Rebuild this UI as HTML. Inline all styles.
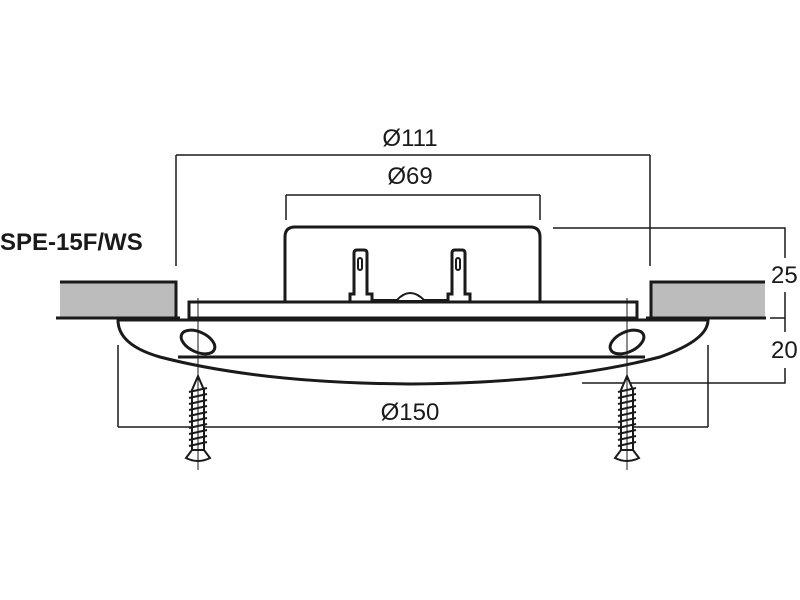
<!DOCTYPE html>
<html><head><style>
html,body{margin:0;padding:0;background:#fff;width:800px;height:600px;overflow:hidden}
svg{display:block}
text{font-family:"Liberation Sans",sans-serif;fill:#1a1a1a}
</style></head><body>
<svg width="800" height="600" viewBox="0 0 800 600" xmlns="http://www.w3.org/2000/svg">
<g stroke="#1a1a1a" fill="none" stroke-width="1.5">
 <path d="M176 155H650M176 155V266M650 155V266"/>
 <path d="M286 195H540M286 195V220M540 195V220"/>
 <path d="M553 228H785V258M785 292V318H770M785 318V332M785 368V383H582"/>
 <path d="M118 427H708M118 345V427M708 345V427"/>
</g>
<rect x="60" y="281" width="116" height="37" fill="#bcbcbc"/>
<path d="M60 282H176V318" stroke="#1a1a1a" stroke-width="3" fill="none"/>
<rect x="650" y="281" width="115" height="37" fill="#bcbcbc"/>
<path d="M765 282H651V318" stroke="#1a1a1a" stroke-width="3" fill="none"/>
<path d="M56 318H180M646 318H766" stroke="#1a1a1a" stroke-width="3"/>
<g stroke="#1a1a1a" fill="#fff" stroke-width="3">
 <path d="M285 302V237Q285 227 295 227H530Q540 227 540 237V302"/>
 <path d="M350 307V294H354V253Q354 250 357 250H364Q367 250 367 253V294H372V307Z"/>
 <path d="M448 307V294H452V253Q452 250 455 250H462Q465 250 465 253V294H470V307Z"/>
 <rect x="358" y="258" width="4" height="12" rx="2" stroke-width="2"/>
 <rect x="456" y="258" width="4" height="12" rx="2" stroke-width="2"/>
 <path d="M372 300H448V307H372Z" stroke-width="2"/>
 <path d="M397 300Q410 286 424 300" stroke-width="2"/>
 <rect x="189" y="302" width="448" height="16"/>
 <path d="M118 320H708Q708 340 660 357Q560 383 410 384Q260 383 160 357Q118 345 118 320Z"/>
 <path d="M178 357H645"/>
 <ellipse cx="198" cy="342" rx="18" ry="10" transform="rotate(25 198 342)"/>
 <ellipse cx="627" cy="342" rx="18" ry="10" transform="rotate(-25 627 342)"/>
</g>
<path d="M198 298V470M627 298V470" stroke="#1a1a1a" stroke-width="1"/>
<g stroke="#1a1a1a" fill="#fff" stroke-width="2">
 <g id="s1">
 <path d="M198 376L192 390V450H204V390Z"/>
 <path d="M192 450L186 458Q198 464 210 458L204 450Z"/>
 <path d="M189 392l18 -4M189 398l18 -4M189 404l18 -4M189 410l18 -4M189 416l18 -4M189 422l18 -4M189 428l18 -4M189 434l18 -4M189 440l18 -4M189 446l18 -4"/>
 </g>
 <use href="#s1" x="429"/>
</g>
<path d="M198 376V470M627 376V470" stroke="#1a1a1a" stroke-width="1"/>
<text x="410" y="146" font-size="24" text-anchor="middle">Ø111</text>
<text x="410" y="184" font-size="24" text-anchor="middle">Ø69</text>
<text x="410" y="420" font-size="24" text-anchor="middle">Ø150</text>
<text x="771" y="283" font-size="24">25</text>
<text x="771" y="358" font-size="24">20</text>
<text x="0" y="250" font-size="24" font-weight="bold">SPE-15F/WS</text>
</svg>
</body></html>
